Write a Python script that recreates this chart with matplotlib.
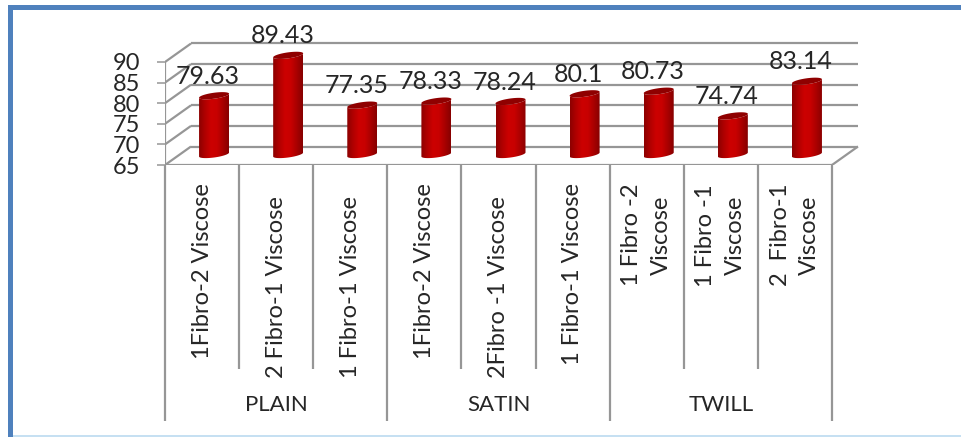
import numpy as np
import matplotlib.pyplot as plt
from matplotlib.colors import LinearSegmentedColormap
from matplotlib.patches import PathPatch, Polygon, Rectangle
from matplotlib.path import Path

groups = ['PLAIN', 'SATIN', 'TWILL']
group_sizes = [3, 3, 3]
categories = ['1Fibro-2 Viscose', '2 Fibro-1 Viscose', '1 Fibro-1 Viscose',
              '1Fibro-2 Viscose', '2Fibro -1 Viscose', '1 Fibro-1 Viscose',
              '1 Fibro -2\nViscose', '1 Fibro -1\nViscose', '2  Fibro-1\nViscose']
values = [79.63, 89.43, 77.35, 78.33, 78.24, 80.1, 80.73, 74.74, 83.14]
value_labels = ['79.63', '89.43', '77.35', '78.33', '78.24', '80.1', '80.73', '74.74', '83.14']
y_ticks = [65, 70, 75, 80, 85, 90]

plt.rcParams['font.family'] = ['Lato', 'DejaVu Sans']
TEXT = '#262626'
GRID = '#969696'

W, H = 962, 437
PX_X = 74.11   # pixels per category
PX_Y = 4.12    # pixels per value unit
DEPTH_X = 26 / PX_X
DEPTH_Y = 18.5 / PX_Y
Y_MAX = 100

fig = plt.figure(figsize=(W / 100, H / 100), dpi=100)
left, base = 165, 165
ax = fig.add_axes([left / W, (H - base) / H, 9.5 * PX_X / W, (Y_MAX - 65) * PX_Y / H])
ax.set_xlim(0, 9.5)
ax.set_ylim(65, Y_MAX)
for s in ax.spines.values():
    s.set_visible(False)
ax.patch.set_visible(False)

# frame around the figure
fig.add_artist(Rectangle((8 / W, 0), 5 / W, 1 - 5 / H, color='#4f81bd', lw=0))
fig.add_artist(Rectangle((8 / W, 1 - 10 / H), 1 - 8 / W, 5 / H, color='#4f81bd', lw=0))
fig.add_artist(Rectangle((13 / W, 0), 1 - 13 / W, 2 / H, color='#c6e0f2', lw=0))

# walls and floor of the 3d box
n = len(values)
line = dict(color=GRID, lw=1.6, solid_capstyle='butt', zorder=1)
for v in y_ticks:
    ax.plot([0, DEPTH_X], [v, v + DEPTH_Y], **line)
    ax.plot([DEPTH_X, n + DEPTH_X], [v + DEPTH_Y, v + DEPTH_Y], **line)
ax.plot([0, n], [65, 65], **line)
ax.plot([n, n + DEPTH_X], [65, 65 + DEPTH_Y], **line)
ax.plot([0, 0], [65, 90], **line)

ax.set_xticks([])
ax.set_yticks(y_ticks)
ax.set_yticklabels([str(v) for v in y_ticks], fontsize=17, color=TEXT)
ax.tick_params(axis='y', length=6, width=1.1, color=GRID, pad=12)

# cylinders
cyl_cmap = LinearSegmentedColormap.from_list(
    'cyl', ['#8c0000', '#b00000', '#cc0000', '#c80000', '#a80000', '#860000'])
half_w = 15 / PX_X
half_h = 3 / PX_Y
tilt = 2 / PX_Y
t = np.linspace(0, np.pi, 40)
lift = 9 / PX_Y
base_lift = 10.5 / PX_Y
grad = np.linspace(0, 1, 128).reshape(1, -1)

for i, v in enumerate(values):
    cx = i + 0.5 + 0.162
    ex = cx + half_w * np.cos(t)
    # upper and lower rims of an ellipse, running from right to left
    lower = -half_h * np.sin(t) + tilt * np.cos(t)
    upper = half_h * np.sin(t) + tilt * np.cos(t)
    y0 = 65 + base_lift
    y1 = v + lift
    body = np.vstack([np.column_stack([ex, y0 + lower]),
                      np.column_stack([ex[::-1], y1 + lower[::-1]])])
    im = ax.imshow(grad, cmap=cyl_cmap, extent=[cx - half_w, cx + half_w, y0 - 3, y1 + 3],
                   aspect='auto', zorder=3, interpolation='bilinear')
    im.set_clip_path(PathPatch(Path(np.vstack([body, body[0]])), transform=ax.transData))
    cap = np.vstack([np.column_stack([ex, y1 + upper]),
                     np.column_stack([ex[::-1], y1 + lower[::-1]])])
    ax.add_patch(Polygon(cap, closed=True, fc='#8f0000', ec='none', zorder=4))
    ax.annotate(value_labels[i], (cx, y1), xytext=(-4.3, 14), textcoords='offset points',
                ha='center', va='center', fontsize=18, color=TEXT, zorder=6)
ax.set_xlim(0, 9.5)
ax.set_ylim(65, Y_MAX)

# category labels and separators below the floor
label_gap = [18, 31, 31, 18, 31, 18, 19, 19, 19]
for i, lab in enumerate(categories):
    ax.annotate(lab, (i + 0.5, 65), xytext=(0, -label_gap[i] * 0.72), textcoords='offset points',
                rotation=90, ha='center', va='top', ma='center', linespacing=1.52,
                fontsize=17, color=TEXT)

inner_drop = 204 / PX_Y
outer_drop = 256 / PX_Y
pos = 0
sep = dict(color=GRID, lw=1.6, solid_capstyle='butt', clip_on=False, zorder=1)
ax.plot([0, 0], [65, 65 - outer_drop], **sep)
for name, size in zip(groups, group_sizes):
    for k in range(1, size):
        ax.plot([pos + k, pos + k], [65, 65 - inner_drop], **sep)
    ax.plot([pos + size, pos + size], [65, 65 - outer_drop], **sep)
    ax.annotate(name, (pos + size / 2, 65), xytext=(0, -240 * 0.72), textcoords='offset points',
                ha='center', va='center', fontsize=16, color=TEXT)
    pos += size

fig.savefig('out.png', dpi=100)
